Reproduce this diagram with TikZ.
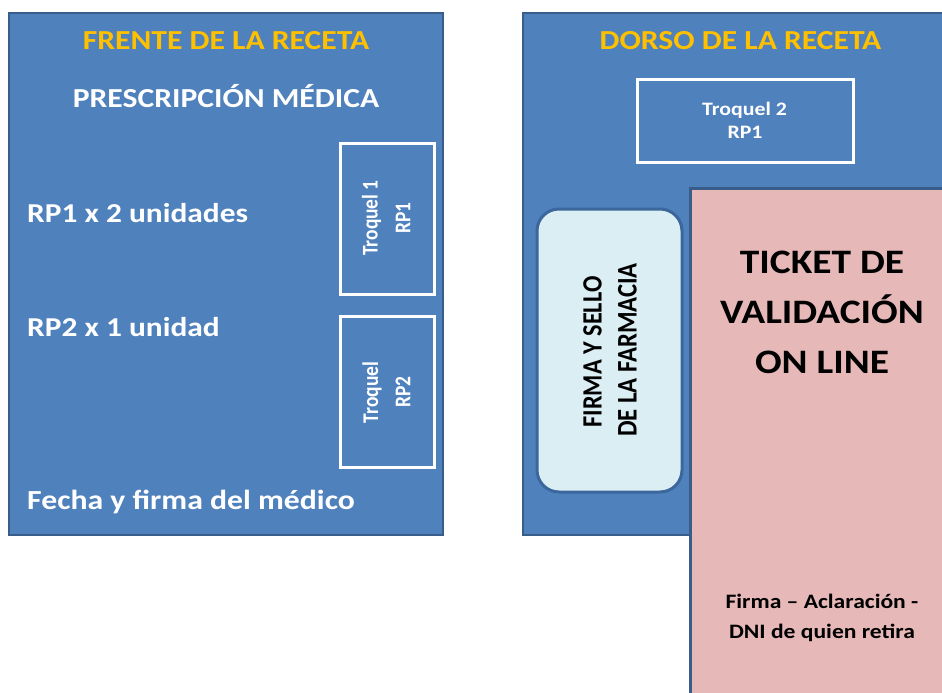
\documentclass[tikz,border=0pt]{standalone}
\usepackage{fontspec}
\setmainfont{Carlito}
\usepackage{graphicx}
\definecolor{panelblue}{HTML}{4F81BD}
\definecolor{paneledge}{HTML}{385D8A}
\definecolor{titleyellow}{HTML}{FFC000}
\definecolor{ticketpink}{HTML}{E6B9B8}
\definecolor{farmblue}{HTML}{DBEEF4}
\definecolor{farmedge}{HTML}{3B679C}
\newcommand{\hs}[1]{\scalebox{1.15}[1]{#1}}
\newcommand{\vs}[1]{\scalebox{1.15}[1]{\rotatebox{90}{#1}}}
\newcommand{\fsz}[1]{\bfseries\fontsize{#1}{#1}\selectfont}
\begin{document}
\begin{tikzpicture}[x=1pt,y=-1pt,
  panel/.style={fill=panelblue,draw=paneledge,line width=2pt},
  troqbox/.style={draw=white,line width=3pt},
  ticketbox/.style={fill=ticketpink,draw=paneledge,line width=3pt},
  farmbox/.style={fill=farmblue,draw=farmedge,line width=3pt,rounded corners=22pt},
  txt/.style={inner sep=0pt,text=white},
  btxt/.style={inner sep=0pt,text=black}]
\useasboundingbox (0,0) rectangle (942,693);
% front
\draw[panel] (9,13) rectangle (443,535);
\draw[troqbox] (340,143) rectangle (434,294);
\draw[troqbox] (340,316) rectangle (434,467);
\node[txt,text=titleyellow,anchor=base,font=\fsz{27.5}] (frente) at (226,49) {\hs{FRENTE DE LA RECETA}};
\node[txt,anchor=base,font=\fsz{27.5}] (presc) at (226,107) {\hs{PRESCRIPCIÓN MÉDICA}};
\node[txt,anchor=base west,font=\fsz{27.3}] (rp1) at (27,222) {\hs{RP1 x 2 unidades}};
\node[txt,anchor=base west,font=\fsz{27.3}] (rp2) at (27,336) {\hs{RP2 x 1 unidad}};
\node[txt,anchor=base west,font=\fsz{27.6}] (fecha) at (27,509) {\hs{Fecha y firma del médico}};
\node[txt,font=\fsz{19.5}] (t1a) at (371.5,218) {\vs{Troquel 1}};
\node[txt,font=\fsz{19.5}] (t1b) at (403,218) {\vs{RP1}};
\node[txt,font=\fsz{19.5}] (t2a) at (372,392.5) {\vs{Troquel}};
\node[txt,font=\fsz{19.5}] (t2b) at (403,392) {\vs{RP2}};
% back
\draw[panel] (523,13) rectangle (960,535);
\draw[troqbox] (637,79) rectangle (853,162);
\node[txt,text=titleyellow,anchor=base,font=\fsz{27.5}] (dorso) at (740.5,49) {\hs{DORSO DE LA RECETA}};
\node[txt,anchor=base,font=\fsz{19}] (tq2a) at (744.5,115) {\hs{Troquel 2}};
\node[txt,anchor=base,font=\fsz{19}] (tq2b) at (745,138) {\hs{RP1}};
\draw[farmbox] (537,209) rectangle (682,492);
\node[btxt,font=\fsz{24.3}] (farma) at (592.5,352) {\vs{FIRMA Y SELLO}};
\node[btxt,font=\fsz{24.7}] (farmb) at (627.5,350) {\vs{DE LA FARMACIA}};
\draw[ticketbox] (690,188) rectangle (960,710);
\node[btxt,anchor=base,font=\fsz{34.3}] (tka) at (822,273) {\hs{TICKET DE}};
\node[btxt,anchor=base,font=\fsz{34.3}] (tkb) at (822,323) {\hs{VALIDACIÓN}};
\node[btxt,anchor=base,font=\fsz{34.3}] (tkc) at (822,373) {\hs{ON LINE}};
\node[btxt,anchor=base,font=\fsz{20.5}] (fa) at (822,608) {\hs{Firma – Aclaración -}};
\node[btxt,anchor=base,font=\fsz{20.5}] (fb) at (822,638) {\hs{DNI de quien retira}};
\end{tikzpicture}
\end{document}
